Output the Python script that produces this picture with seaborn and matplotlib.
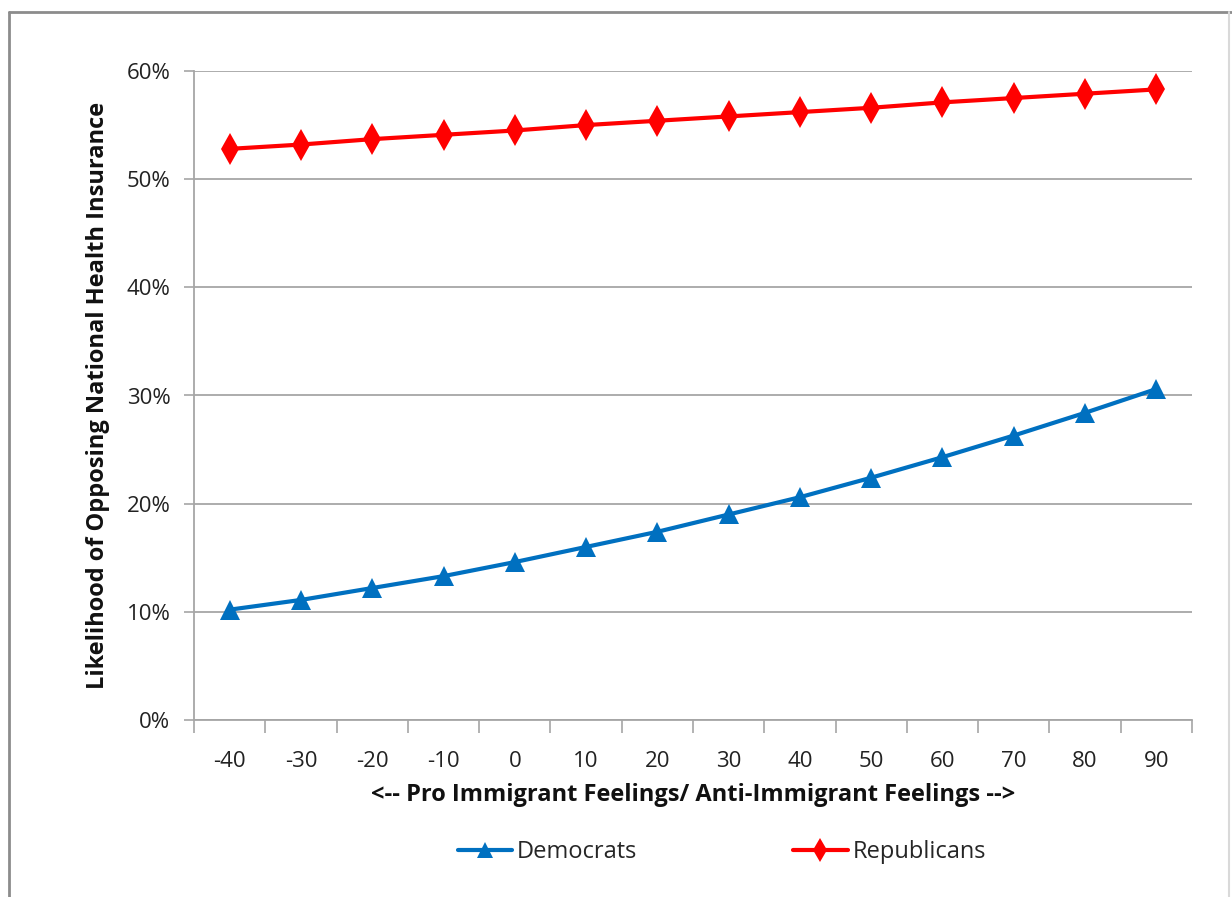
import numpy as np
import pandas as pd
import seaborn as sns
import matplotlib.pyplot as plt
from matplotlib.lines import Line2D
from matplotlib.ticker import PercentFormatter, FixedLocator

# Feeling thermometer difference (pro- vs anti-immigrant)
categories = [-40, -30, -20, -10, 0, 10, 20, 30, 40, 50, 60, 70, 80, 90]

# Predicted likelihood of opposing national health insurance
democrats = [0.102, 0.111, 0.122, 0.133, 0.146, 0.160, 0.174, 0.190,
             0.206, 0.224, 0.243, 0.263, 0.284, 0.306]
republicans = [0.528, 0.532, 0.537, 0.541, 0.545, 0.550, 0.554, 0.558,
               0.562, 0.566, 0.571, 0.575, 0.579, 0.583]

series_names = ["Democrats", "Republicans"]
colors = {"Democrats": "#0070C0", "Republicans": "#FF0000"}
markers = {"Democrats": "^", "Republicans": "d"}

pos = np.arange(len(categories))
df = pd.DataFrame({
    "pos": np.concatenate([pos, pos]),
    "value": democrats + republicans,
    "party": ["Democrats"] * len(categories) + ["Republicans"] * len(categories),
})

sns.set_theme(style="white")
plt.rcParams["font.family"] = ["Open Sans", "DejaVu Sans"]

fig = plt.figure(figsize=(12.32, 8.97), dpi=100)
ax = fig.add_axes([194 / 1232, 1 - 720 / 897, 998 / 1232, 649 / 897])

for name in series_names:
    sub = df[df["party"] == name]
    sns.lineplot(data=sub, x="pos", y="value", ax=ax, color=colors[name],
                 linewidth=3.0, marker=markers[name],
                 markersize=16 if name == "Republicans" else 14,
                 markeredgewidth=0, zorder=3, legend=False)

ax.set_xlim(-0.5, len(categories) - 0.5)
ax.set_ylim(0, 0.6)
ax.yaxis.set_major_locator(FixedLocator(np.arange(0, 0.61, 0.1)))
ax.yaxis.set_major_formatter(PercentFormatter(1.0, decimals=0))
ax.grid(axis="y", color="#A6A6A6", linewidth=1.3)
ax.set_axisbelow(True)

ax.set_xticks(pos)
ax.set_xticklabels([str(c) for c in categories])
ax.set_xticks(np.arange(-0.5, len(categories), 1.0), minor=True)
ax.tick_params(axis="x", which="major", length=0, pad=22, labelsize=16,
               labelcolor="#222222")
ax.tick_params(axis="x", which="minor", length=9, width=1.2, color="#A6A6A6",
               direction="out", bottom=True)
ax.tick_params(axis="y", which="major", length=7, width=1.2, color="#A6A6A6",
               direction="out", left=True, pad=10, labelsize=16,
               labelcolor="#222222")

for side in ["top", "right"]:
    ax.spines[side].set_visible(False)
for side in ["left", "bottom"]:
    ax.spines[side].set_color("#A6A6A6")
    ax.spines[side].set_linewidth(1.3)

ax.set_xlabel("<-- Pro Immigrant Feelings/ Anti-Immigrant Feelings -->",
              fontsize=17, fontweight="bold", labelpad=8, color="#111111")
ax.set_ylabel("Likelihood of Opposing National Health Insurance",
              fontsize=17, fontweight="bold", labelpad=12, color="#111111")

handles = [Line2D([0], [0], color=colors[n], linewidth=3.0, marker=markers[n],
                  markersize=12 if n == "Republicans" else 11,
                  markeredgewidth=0) for n in series_names]
fig.legend(handles, series_names, loc="center", bbox_to_anchor=(0.586, 0.05),
           ncol=2, frameon=False, fontsize=17, columnspacing=6.6,
           handlelength=2.3, handletextpad=0.2)

# outer chart-area frame
frame_kw = dict(transform=fig.transFigure, color="#8C8C8C", linewidth=2.0)
fig.add_artist(Line2D([9 / 1232, 9 / 1232], [0, 1 - 12 / 897], **frame_kw))
fig.add_artist(Line2D([9 / 1232, 1], [1 - 12 / 897, 1 - 12 / 897], **frame_kw))
fig.add_artist(Line2D([1229 / 1232, 1229 / 1232], [0, 1 - 12 / 897],
                      transform=fig.transFigure, color="#D9D9D9", linewidth=1.5))

fig.savefig("out.png", dpi=100, facecolor="white")
